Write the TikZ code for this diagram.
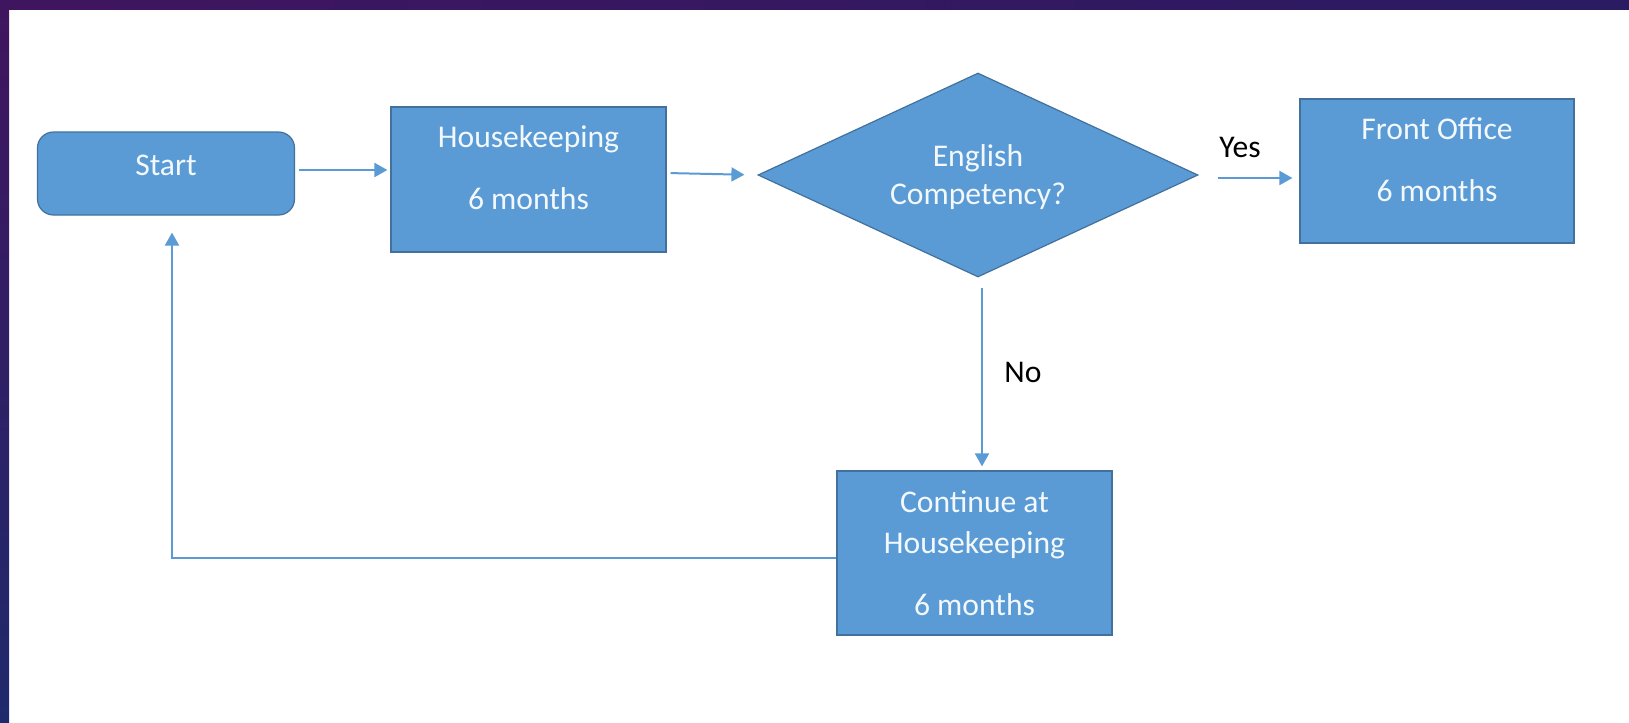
\documentclass[tikz,border=0pt]{standalone}
\usepackage{fontspec}
\setmainfont{Carlito}
\usetikzlibrary{shapes.geometric,arrows.meta}
\definecolor{boxfill}{HTML}{5B9BD5}
\definecolor{boxline}{HTML}{41719C}
\definecolor{txtwhite}{HTML}{F2F8FC}
\definecolor{framepurple}{HTML}{40155F}
\definecolor{framenavy}{HTML}{1F2A6C}
\definecolor{frameright}{HTML}{2A1B63}
\tikzset{
  box/.style={draw=boxline, line width=0.6pt, fill=boxfill, text=txtwhite, align=center, inner sep=0pt, font=\fontsize{15.8}{20.5}\selectfont},
  startbox/.style={box, rounded corners=8pt},
  decision/.style={box, diamond, aspect=2.17},
  arr/.style={draw=boxfill, line width=1pt, -{Triangle[length=6.5pt,width=7pt]}},
  lbl/.style={text=black, font=\fontsize{15.8}{19}\selectfont, inner sep=0pt},
}
\begin{document}
\begin{tikzpicture}[x=0.5pt,y=-0.5pt]
\useasboundingbox (0,0) rectangle (1629,723);
\fill[white] (0,0) rectangle (1629,723);
\shade[left color=framepurple,right color=frameright] (0,0) rectangle (1629,9);
\shade[top color=framepurple,bottom color=framenavy] (0,0) rectangle (9,723);

\node[startbox, minimum width=128.5pt, minimum height=41.5pt, text depth=8.5pt] (start) at (166,173.5) {Start};
\node[box, minimum width=137.5pt, minimum height=72.5pt, text depth=11.5pt] (hk) at (528.5,179.5) {Housekeeping\\[10.5pt]6 months};
\node[decision, minimum width=220pt, minimum height=102pt, text depth=0pt, font=\fontsize{15.8}{19}\selectfont] (dia) at (978,175) {English\\Competency?};
\node[box, minimum width=137pt, minimum height=72pt, text depth=11.5pt] (fo) at (1437,171) {Front Office\\[10.5pt]6 months};
\node[box, minimum width=137.5pt, minimum height=82pt] (cont) at (974.5,553) {Continue at\\Housekeeping\\[10.5pt]6 months};

\node[lbl] (yes) at (1240,147) {Yes};
\node[lbl] (no) at (1023,372) {No};

\coordinate (s1) at ([yshift=1.75pt]start.east);
\draw[arr, shorten <=2pt, shorten >=1.5pt] (s1) -- (s1 -| hk.west);
\draw[arr, shorten <=2pt, shorten >=6.5pt] ([yshift=3.25pt]hk.east) -- (dia.west);
\coordinate (y1) at ([yshift=-1.5pt]dia.east);
\draw[arr, shorten <=9.5pt, shorten >=3.5pt] (y1) -- (y1 -| fo.west);
\coordinate (n1) at ([xshift=2pt]dia.south);
\draw[arr, shorten <=5pt, shorten >=2pt] (n1) -- (n1 |- cont.north);
\coordinate (f1) at ([yshift=-2.5pt]cont.west);
\coordinate (f2) at ([xshift=3pt]start.south);
\draw[arr, shorten >=8.5pt] (f1) -| (f2);
\end{tikzpicture}
\end{document}
